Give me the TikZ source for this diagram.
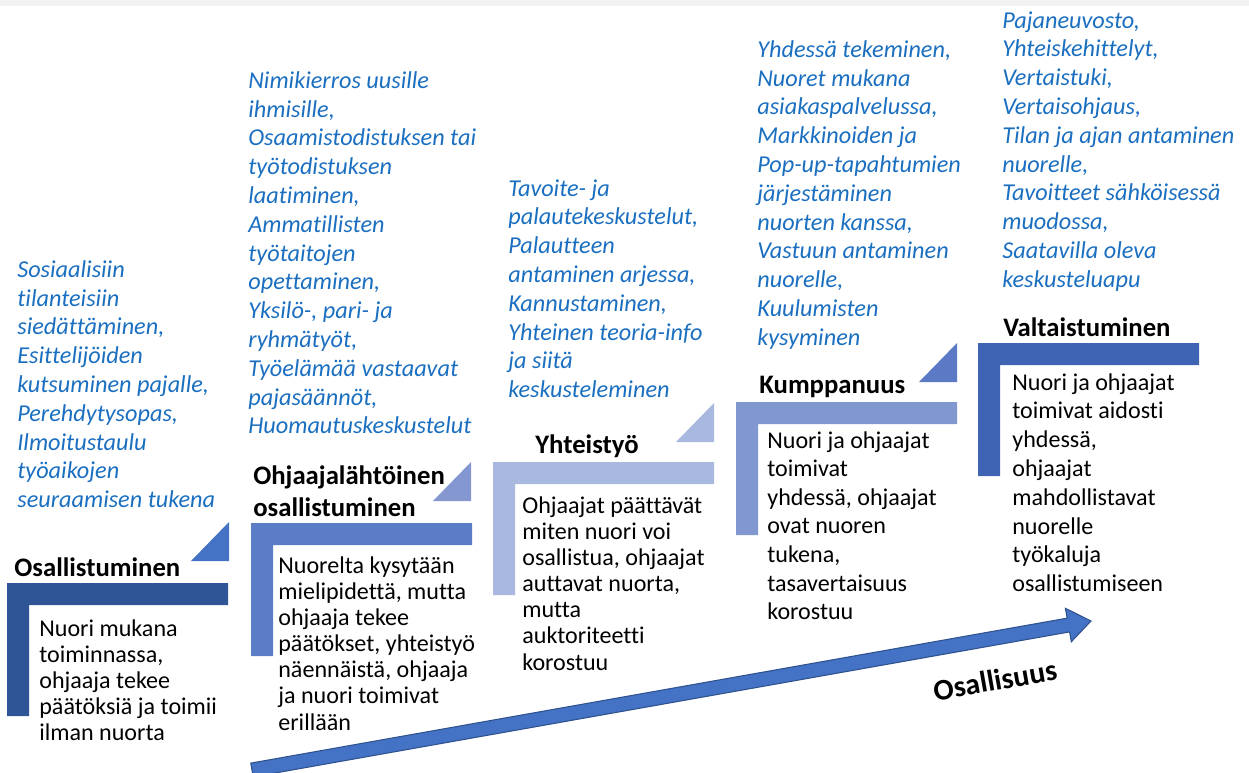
\documentclass[tikz,border=0pt]{standalone}
\usepackage{fontspec}
\setmainfont{Carlito}[Ligatures=NoCommon]
\usetikzlibrary{calc}
\definecolor{StepA}{HTML}{2F5597}
\definecolor{StepB}{HTML}{5A7DC5}
\definecolor{StepC}{HTML}{A9B8DE}
\definecolor{StepD}{HTML}{8097D0}
\definecolor{StepE}{HTML}{3F64B4}
\definecolor{TriA}{HTML}{4472C4}
\definecolor{TriB}{HTML}{8497D0}
\definecolor{TriD}{HTML}{5B79C4}
\definecolor{IdeaBlue}{HTML}{1B6FC0}
\definecolor{ArrowFill}{HTML}{4472C4}
\definecolor{ArrowLine}{HTML}{2F528F}
\tikzset{
    title/.style = {anchor=north west, inner sep=0pt, align=left,
        font=\fontsize{15.2}{18.2}\selectfont\bfseries},
    body/.style = {anchor=north west, inner sep=0pt, align=left,
        font=\fontsize{13.7}{14.9}\selectfont},
    ideas/.style = {anchor=north west, inner sep=0pt, align=left, color=IdeaBlue,
        font=\fontsize{13.8}{16.4}\selectfont\itshape},
    arrowbody/.style = {fill=ArrowFill, draw=ArrowLine, line width=.6pt}
}
\begin{document}
\begin{tikzpicture}[x=0.02cm,y=-0.02cm]
            \useasboundingbox (0,0) rectangle (1249,772);
            \fill[black!5] (0,0) rectangle (1249,6);
            % steps
            \foreach \x/\y/\c in {7/583/StepA, 251/523/StepB, 493/462/StepC, 736/402/StepD, 978/343/StepE}
                \fill[\c] (\x,\y) -- ++(221,0) -- ++(0,22) -- ++(-199,0) -- ++(0,111) -- ++(-22,0) -- cycle;
            \foreach \x/\y/\c in {229/561/TriA, 471/501/TriB, 714/442/StepC, 957/382/TriD}
                \fill[\c] (\x,\y) -- ++(-38,0) -- ++(38,-39) -- cycle;
            % titles
            \node[title] (osal) at (14,557) {Osallistuminen};
            \node[title] (ohjaaja) at (253,465) {Ohjaajalähtöinen\\osallistuminen};
            \node[title] (yhteis) at (535,434) {Yhteistyö};
            \node[title] (kumppa) at (759,376) {Kumppanuus};
            \node[title] (valta) at (1003,317) {Valtaistuminen};
            % descriptions
            \node[body] (osalbody) at (39,619) {Nuori mukana\\toiminnassa,\\ohjaaja tekee\\päätöksiä ja toimii\\ilman nuorta};
            \node[body] (ohjaajabody) at (278,556) {Nuorelta kysytään\\mielipidettä, mutta\\ohjaaja tekee\\päätökset, yhteistyö\\näennäistä, ohjaaja\\ja nuori toimivat\\erillään};
            \node[body] (yhteisbody) at (522,496) {Ohjaajat päättävät\\miten nuori voi\\osallistua, ohjaajat\\auttavat nuorta,\\mutta\\auktoriteetti\\korostuu};
            \node[body, font=\fontsize{13.7}{16.3}\selectfont] (kumppabody) at (767,431) {Nuori ja ohjaajat\\toimivat\\yhdessä, ohjaajat\\ovat nuoren\\tukena,\\tasavertaisuus\\korostuu};
            \node[body, font=\fontsize{13.7}{16.4}\selectfont] (valtabody) at (1012,373) {Nuori ja ohjaajat\\toimivat aidosti\\yhdessä,\\ohjaajat\\mahdollistavat\\nuorelle\\työkaluja\\osallistumiseen};
            % examples in blue
            \node[ideas] (osalideas) at (17,260) {Sosiaalisiin\\tilanteisiin\\siedättäminen,\\Esittelijöiden\\kutsuminen pajalle,\\Perehdytysopas,\\Ilmoitustaulu\\työaikojen\\seuraamisen tukena};
            \node[ideas] (ohjaajaideas) at (248,71) {Nimikierros uusille\\ihmisille,\\Osaamistodistuksen tai\\työtodistuksen\\laatiminen,\\Ammatillisten\\työtaitojen\\opettaminen,\\Yksilö-, pari- ja\\ryhmätyöt,\\Työelämää vastaavat\\pajasäännöt,\\Huomautuskeskustelut};
            \node[ideas] (yhteisideas) at (508,179) {Tavoite- ja\\palautekeskustelut,\\Palautteen\\antaminen arjessa,\\Kannustaminen,\\Yhteinen teoria-info\\ja siitä\\keskusteleminen};
            \node[ideas] (kumppaideas) at (757,40) {Yhdessä tekeminen,\\Nuoret mukana\\asiakaspalvelussa,\\Markkinoiden ja\\Pop-up-tapahtumien\\järjestäminen\\nuorten kanssa,\\Vastuun antaminen\\nuorelle,\\Kuulumisten\\kysyminen};
            \node[ideas] (valtaideas) at (1002,11) {Pajaneuvosto,\\Yhteiskehittelyt,\\Vertaistuki,\\Vertaisohjaus,\\Tilan ja ajan antaminen\\nuorelle,\\Tavoitteet sähköisessä\\muodossa,\\Saatavilla oleva\\keskusteluapu};
            % big arrow
            \coordinate (tail) at (252,770);
            \coordinate (tip) at (1091,621);
            \coordinate (neck) at ($(tip)!0.46cm!(tail)$);
            \filldraw[arrowbody] ($(tail)!0.14cm!90:(tip)$) -- ($(neck)!0.14cm!90:(tip)$) -- ($(neck)!0.34cm!90:(tip)$) -- (tip)
                -- ($(neck)!0.34cm!-90:(tip)$) -- ($(neck)!0.14cm!-90:(tip)$) -- ($(tail)!0.14cm!-90:(tip)$) -- cycle;
            \node[rotate=10, font=\fontsize{17}{19}\selectfont\bfseries] (osallisuus) at (995,680) {Osallisuus};
\end{tikzpicture}
\end{document}
